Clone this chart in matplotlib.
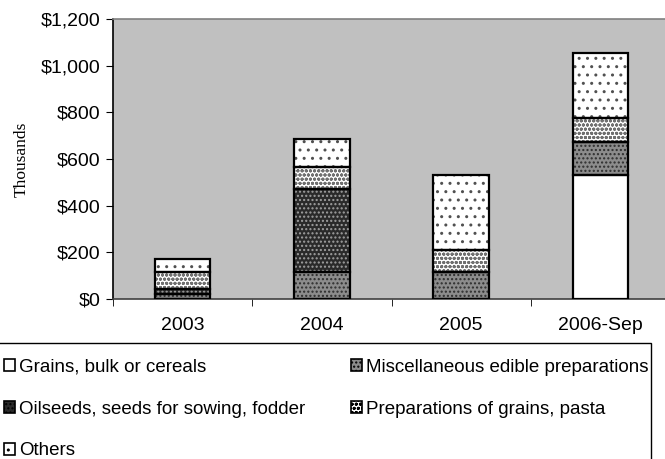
import matplotlib
matplotlib.use("Agg")
import matplotlib.pyplot as plt
import numpy as np
from matplotlib.patches import Rectangle, Patch
from matplotlib.ticker import FuncFormatter

categories = ["2003", "2004", "2005", "2006-Sep"]
grains = [0, 0, 0, 531]
misc = [23, 117, 114, 140]
oilseeds = [20, 356, 0, 0]
prep = [72, 92, 95, 105]
others = [55, 119, 321, 279]

series_names = ["Grains, bulk or cereals", "Miscellaneous edible preparations",
                "Oilseeds, seeds for sowing, fodder", "Preparations of grains, pasta",
                "Others"]
series_vals = [grains, misc, oilseeds, prep, others]
# (facecolor, hatch color, hatch)
styles = [("white", "white", None),
          ("#8c8c8c", "#2e2e2e", "...."),
          ("#2a2a2a", "#a0a0a0", "...."),
          ("white", "#707070", "oooo"),
          ("white", "#505050", "..")]

plt.rcParams['font.family'] = ['Liberation Sans', 'DejaVu Sans']
plt.rcParams['hatch.linewidth'] = 1.0

fig = plt.figure(figsize=(6.65, 4.59), dpi=100)
W, H = 665, 459
left, right, top, bottom = 113, 670, 19, 299
ax = fig.add_axes([left / W, (H - bottom) / H, (right - left) / W, (bottom - top) / H])
ax.set_facecolor("#c0c0c0")

x = np.arange(len(categories))
width = 0.40
base = np.zeros(len(categories))
handles = []
for name, vals, (fc, hc, hatch) in zip(series_names, series_vals, styles):
    v = np.array(vals, dtype=float)
    ax.bar(x, v, width, bottom=base, color=fc, edgecolor=hc, hatch=hatch, linewidth=0, zorder=2)
    ax.bar(x, v, width, bottom=base, fill=False, edgecolor="black", linewidth=1.6, zorder=3)
    handles.append(Patch(facecolor=fc, edgecolor="black", hatch=hatch, linewidth=1.2))
    base += v

ax.set_xlim(-0.5, len(categories) - 0.5)
ax.set_ylim(0, 1200)
ax.set_yticks(np.arange(0, 1201, 200))
ax.yaxis.set_major_formatter(FuncFormatter(lambda v, p: "${:,.0f}".format(v)))
ax.set_xticks(x)
ax.set_xticklabels(categories)
ax.set_xticks(np.arange(-0.5, len(categories), 1.0), minor=True)
ax.tick_params(axis="x", which="major", length=0, labelsize=14, pad=13)
ax.tick_params(axis="x", which="minor", length=5, direction="out", color="black")
ax.tick_params(axis="y", which="major", length=5, direction="out", labelsize=14, pad=4)
ax.spines["left"].set_color("black")
ax.spines["left"].set_linewidth(1.2)
ax.spines["bottom"].set_color("#404040")
ax.spines["bottom"].set_linewidth(1.2)
ax.spines["top"].set_color("#808080")
ax.spines["top"].set_linewidth(1.2)
ax.spines["right"].set_visible(False)
ax.set_ylabel("Thousands", family=["Liberation Serif", "DejaVu Serif"], fontsize=12.5, labelpad=8)

# Legend frame
frame = Rectangle((-2 / W, -5 / H), 653 / W, (H - 343 + 5) / H, transform=fig.transFigure,
                  facecolor="white", edgecolor="black", linewidth=1.0)
fig.patches.append(frame)

order = [0, 2, 4, 1, 3]
leg = fig.legend([handles[i] for i in order], [series_names[i] for i in order],
                 loc="upper left", bbox_to_anchor=(0 / W, 1 - 355 / H), ncol=2,
                 frameon=False, fontsize=13.5, handlelength=0.6, handleheight=0.6,
                 handletextpad=0.2, labelspacing=1.32, columnspacing=2.45,
                 borderaxespad=0, borderpad=0.2)

fig.savefig("out.png", dpi=100)
